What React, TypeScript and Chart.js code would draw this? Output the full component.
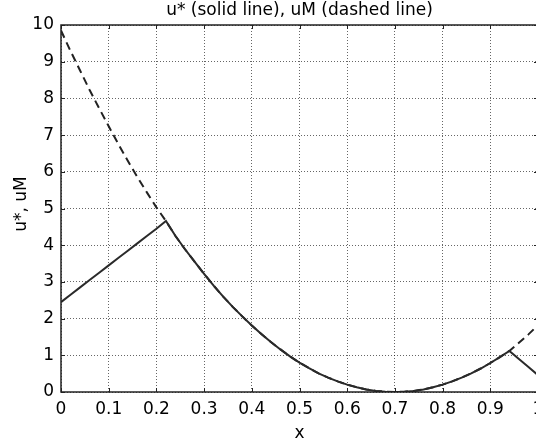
import React, { useEffect, useRef } from "react";
import { Chart, registerables } from "chart.js";

Chart.register(...registerables);

const xValues = [
  0, 0.02, 0.04, 0.06, 0.08, 0.1, 0.12, 0.14, 0.16, 0.18, 0.2, 0.22,
  0.24, 0.26, 0.28, 0.3, 0.32, 0.34, 0.36, 0.38, 0.4, 0.42, 0.44, 0.46,
  0.48, 0.5, 0.52, 0.54, 0.56, 0.58, 0.6, 0.62, 0.64, 0.66, 0.68, 0.7,
  0.72, 0.74, 0.76, 0.78, 0.8, 0.82, 0.84, 0.86, 0.88, 0.9, 0.92, 0.94,
  0.96, 0.98, 1.0,
];

const uStar = [
  2.45, 2.65, 2.85, 3.05, 3.25, 3.45, 3.65, 3.85, 4.05, 4.25, 4.45, 4.66,
  4.25, 3.89, 3.55, 3.22, 2.9, 2.6, 2.32, 2.06, 1.81, 1.58, 1.36, 1.16,
  0.97, 0.8, 0.65, 0.51, 0.39, 0.29, 0.2, 0.13, 0.07, 0.03, 0.01, 0.0,
  0.01, 0.03, 0.07, 0.13, 0.2, 0.29, 0.39, 0.51, 0.64, 0.79, 0.95, 1.12,
  0.9, 0.68, 0.46,
];

const uM = [
  9.85, 9.29, 8.76, 8.23, 7.73, 7.24, 6.76, 6.3, 5.86, 5.44, 5.03, 4.66,
  4.25, 3.89, 3.55, 3.22, 2.9, 2.6, 2.32, 2.06, 1.81, 1.58, 1.36, 1.16,
  0.97, 0.8, 0.65, 0.51, 0.39, 0.29, 0.2, 0.13, 0.07, 0.03, 0.01, 0.0,
  0.01, 0.03, 0.07, 0.13, 0.2, 0.29, 0.39, 0.51, 0.64, 0.79, 0.95, 1.12,
  1.34, 1.57, 1.82,
];

const xTicks = [0, 0.1, 0.2, 0.3, 0.4, 0.5, 0.6, 0.7, 0.8, 0.9, 1];
const xTickLabels = ["0", "0.1", "0.2", "0.3", "0.4", "0.5", "0.6", "0.7", "0.8", "0.9", "1"];
const yTicks = [0, 1, 2, 3, 4, 5, 6, 7, 8, 9, 10];
const yTickLabels = ["0", "1", "2", "3", "4", "5", "6", "7", "8", "9", "10"];

const titleText = "u* (solid line), uM (dashed line)";
const xLabel = "x";
const yLabel = "u*, uM";

const FONT = "'DejaVu Sans', Verdana, sans-serif";
const FONT_SIZE = 17;

const decorPlugin = {
  id: "decor",
  afterDraw(chart: any) {
    const { ctx, chartArea } = chart;
    const { left, right, top, bottom } = chartArea;
    const xs = chart.scales.x;
    const ys = chart.scales.y;
    ctx.save();
    ctx.strokeStyle = "#222";
    ctx.lineWidth = 1;
    ctx.beginPath();
    xTicks.forEach((v) => {
      const px = Math.round(xs.getPixelForValue(v)) + 0.5;
      ctx.moveTo(px, bottom);
      ctx.lineTo(px, bottom - 4);
      ctx.moveTo(px, top);
      ctx.lineTo(px, top + 4);
    });
    yTicks.forEach((v) => {
      const py = Math.round(ys.getPixelForValue(v)) + 0.5;
      ctx.moveTo(left, py);
      ctx.lineTo(left + 4, py);
      ctx.moveTo(right, py);
      ctx.lineTo(right - 4, py);
    });
    ctx.stroke();
    ctx.lineWidth = 1.5;
    ctx.strokeStyle = "#222";
    ctx.strokeRect(left, top, right - left, bottom - top);
    ctx.fillStyle = "#000";
    ctx.font = `${FONT_SIZE}px ${FONT}`;
    ctx.textAlign = "center";
    ctx.textBaseline = "middle";
    ctx.fillText(titleText, (left + right) / 2, 11);
    ctx.fillText(xLabel, (left + right) / 2, 434);
    ctx.translate(22, 204);
    ctx.rotate(-Math.PI / 2);
    ctx.fillText(yLabel, 0, 0);
    ctx.restore();
  },
};

export default function App() {
  const ref = useRef<HTMLCanvasElement | null>(null);
  useEffect(() => {
    document.body.style.margin = "0";
    document.body.style.overflow = "hidden";
    const canvas = ref.current;
    if (!canvas) return;
    const chart = new Chart(canvas, {
      type: "line",
      data: {
        datasets: [
          {
            label: "u*",
            data: xValues.map((x, i) => ({ x, y: uStar[i] })),
            borderColor: "#2a2a2a",
            borderWidth: 2,
            pointRadius: 0,
            fill: false,
            tension: 0,
          },
          {
            label: "uM",
            data: xValues.map((x, i) => ({ x, y: uM[i] })),
            borderColor: "#222",
            borderWidth: 2,
            borderDash: [8, 5],
            pointRadius: 0,
            fill: false,
            tension: 0,
          },
        ],
      },
      options: {
        animation: false,
        responsive: false,
        maintainAspectRatio: false,
        layout: { padding: { left: 0, right: 7, top: 25, bottom: 0 } },
        plugins: {
          legend: { display: false },
          title: { display: false },
          tooltip: { enabled: false },
        },
        scales: {
          x: {
            type: "linear",
            min: 0,
            max: 1,
            afterBuildTicks: (s: any) => {
              s.ticks = xTicks.map((v) => ({ value: v }));
            },
            afterFit: (s: any) => {
              s.height = 53;
              s.paddingLeft = 0;
              s.paddingRight = 0;
            },
            ticks: {
              autoSkip: false,
              maxRotation: 0,
              padding: 7,
              color: "#000",
              font: { family: FONT, size: FONT_SIZE },
              callback: (v: any, i: number) => xTickLabels[i],
            },
            grid: {
              color: "rgba(0,0,0,0.6)",
              lineWidth: 1,
              drawTicks: false,
            },
            border: { display: false, dash: [1, 2] },
          },
          y: {
            type: "linear",
            min: 0,
            max: 10,
            afterBuildTicks: (s: any) => {
              s.ticks = yTicks.map((v) => ({ value: v }));
            },
            afterFit: (s: any) => {
              s.width = 61;
              s.paddingTop = 0;
              s.paddingBottom = 0;
            },
            ticks: {
              autoSkip: false,
              padding: 7,
              color: "#000",
              font: { family: FONT, size: FONT_SIZE },
              callback: (v: any, i: number) => yTickLabels[i],
            },
            grid: {
              color: "rgba(0,0,0,0.6)",
              lineWidth: 1,
              drawTicks: false,
            },
            border: { display: false, dash: [1, 2] },
          },
        },
      },
      plugins: [decorPlugin],
    } as any);
    return () => chart.destroy();
  }, []);
  return (
    <canvas
      ref={ref}
      width={545}
      height={445}
      style={{ display: "block", width: 545, height: 445 }}
    />
  );
}
